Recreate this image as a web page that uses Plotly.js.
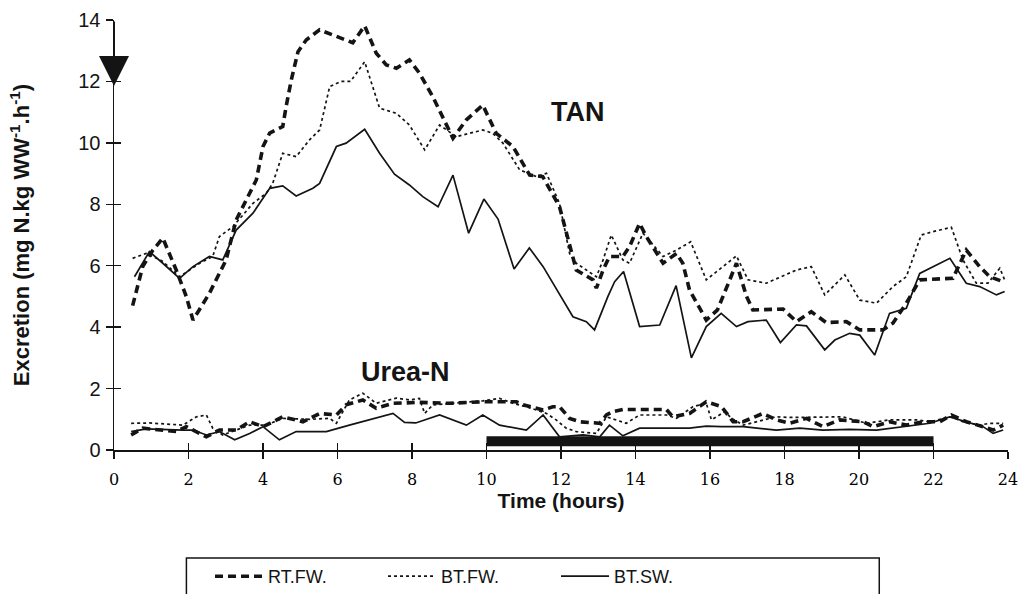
<!DOCTYPE html>
<html>
<head>
<meta charset="utf-8">
<script src="https://cdn.plot.ly/plotly-3.0.1.min.js"></script>
<style>html,body{margin:0;padding:0;background:#fff;}#chart{width:1022px;height:594px;}</style>
</head>
<body>
<div id="chart"></div>
<script>
// ---- data (hours, mg N.kg WW-1.h-1) ----
const seriesNames = ["RT.FW.", "BT.FW.", "BT.SW."];

const tanRtFwX = [0.5,0.77,1.04,1.31,1.67,1.94,2.12,2.56,3.01,3.28,3.82,4.0,4.18,4.53,4.62,4.76,4.94,5.16,5.52,5.97,6.41,6.73,7.04,7.31,7.58,7.93,8.2,8.56,8.83,9.1,9.46,9.9,10.26,10.71,11.16,11.51,11.96,12.23,12.41,12.86,12.95,13.13,13.3,13.66,13.84,14.11,14.29,14.74,15.1,15.27,15.45,15.9,16.2,16.53,16.71,16.98,17.15,17.96,18.32,18.72,19.12,19.66,20.02,20.64,20.91,21.27,21.63,22.52,22.88,23.24,23.51,23.87];
const tanRtFwY = [4.7,5.97,6.5,6.9,5.86,5.0,4.23,5.1,6.19,7.49,8.79,9.88,10.32,10.53,11.18,12.05,12.97,13.35,13.68,13.46,13.26,13.81,12.92,12.54,12.43,12.7,12.27,11.5,10.85,10.15,10.75,11.23,10.31,9.88,8.95,8.9,7.92,6.62,5.86,5.54,5.27,5.86,6.3,6.3,6.62,7.38,6.95,6.08,6.4,6.08,5.21,4.23,4.56,5.54,6.08,5.0,4.56,4.59,4.18,4.5,4.15,4.18,3.91,3.91,4.13,4.78,5.54,5.59,6.51,5.97,5.64,5.48];

const tanBtFwX = [0.5,0.86,1.3,1.76,2.3,2.65,2.83,3.19,3.73,4.09,4.26,4.53,4.89,5.25,5.52,5.79,6.1,6.35,6.73,7.13,7.58,7.93,8.34,8.74,9.19,9.9,10.17,10.44,10.89,11.34,11.61,11.96,12.23,12.41,12.95,13.13,13.35,13.66,13.84,14.2,14.74,15.1,15.48,15.9,16.71,17.02,17.51,18.32,18.72,19.08,19.62,20.02,20.47,20.91,21.27,21.67,21.99,22.48,22.79,23.15,23.46,23.78,23.91];
const tanBtFwY = [6.24,6.4,6.15,5.64,6.08,6.3,6.95,7.27,8.03,8.36,8.68,9.66,9.55,10.1,10.42,11.83,12.0,12.0,12.64,11.13,10.96,10.58,9.77,10.58,10.2,10.42,10.31,9.99,9.12,8.9,9.01,8.03,6.4,6.08,5.64,6.19,7.0,6.19,6.08,7.06,6.3,6.51,6.78,5.54,6.32,5.54,5.43,5.86,5.97,5.05,5.7,4.88,4.78,5.32,5.64,7.0,7.11,7.25,6.19,5.43,5.43,5.92,5.54];

const tanBtSwX = [0.55,0.95,1.31,1.76,2.12,2.56,2.92,3.28,3.73,4.18,4.53,4.89,5.34,5.52,5.97,6.23,6.73,7.13,7.53,7.93,8.29,8.7,9.1,9.52,9.93,10.31,10.74,11.15,11.52,12.32,12.68,12.9,13.26,13.44,13.68,14.11,14.65,15.09,15.5,15.9,16.3,16.71,17.02,17.51,17.89,18.32,18.59,19.08,19.35,19.75,20.02,20.42,20.82,21.27,21.63,22.08,22.44,22.88,23.24,23.69,23.91];
const tanBtSwY = [5.64,6.46,6.08,5.59,5.97,6.3,6.19,7.16,7.71,8.52,8.6,8.27,8.52,8.68,9.88,9.99,10.44,9.66,8.98,8.63,8.25,7.92,8.95,7.06,8.17,7.52,5.89,6.58,5.97,4.34,4.18,3.91,5.0,5.48,5.81,4.02,4.07,5.35,3.0,4.02,4.45,4.02,4.18,4.23,3.5,4.07,4.04,3.26,3.58,3.8,3.74,3.09,4.45,4.61,5.75,6.03,6.24,5.43,5.32,5.05,5.16];

const ureaRtFwX = [0.46,0.77,1.67,1.94,2.48,2.83,3.28,3.64,4.0,4.53,5.07,5.52,5.97,6.23,6.68,7.04,7.49,8.2,9.01,9.9,10.8,10.98,11.52,11.78,11.96,12.23,12.5,13.04,13.22,13.39,13.66,14.83,15.0,15.45,15.9,16.31,16.62,16.89,17.42,17.78,18.14,18.59,19.03,19.48,20.11,20.38,20.82,21.27,21.72,22.17,22.48,22.88,23.33,23.6,23.87];
const ureaRtFwY = [0.49,0.71,0.6,0.76,0.43,0.65,0.65,0.92,0.76,1.08,0.92,1.19,1.14,1.47,1.63,1.36,1.52,1.55,1.52,1.57,1.57,1.47,1.3,1.41,1.41,1.03,0.92,0.87,1.14,1.25,1.32,1.32,1.08,1.19,1.57,1.41,0.92,0.92,1.19,0.98,0.87,1.03,0.76,0.98,0.92,0.76,0.92,0.81,0.92,0.92,1.14,0.92,0.76,0.65,0.81];

const ureaBtFwX = [0.46,0.95,1.85,2.21,2.48,2.65,2.92,3.28,3.64,4.09,4.53,5.25,5.79,5.97,6.32,6.68,7.04,7.58,7.93,8.2,8.34,8.56,9.01,9.9,10.35,10.71,11.07,11.61,11.87,12.14,12.41,12.95,13.22,13.75,14.11,14.83,15.1,15.54,15.9,16.04,16.4,16.58,16.89,17.78,18.14,19.21,19.57,20.2,20.82,21.54,21.9,22.48,22.79,23.24,23.51,23.87];
const ureaBtFwY = [0.87,0.88,0.81,1.08,1.14,0.71,0.49,0.65,0.81,0.81,1.03,1.0,1.03,0.87,1.63,1.85,1.52,1.69,1.63,1.68,1.19,1.47,1.52,1.6,1.68,1.52,1.41,1.19,0.98,0.71,0.6,0.54,1.08,0.87,1.14,1.14,1.03,1.41,1.52,0.98,1.25,1.03,0.81,1.08,1.06,1.06,1.08,0.87,0.98,0.98,0.92,1.08,0.92,0.81,0.87,0.87];

const ureaBtSwX = [0.46,0.86,1.85,2.12,2.48,2.83,3.24,3.64,4.0,4.44,4.89,5.7,6.32,7.49,7.8,8.1,8.74,9.46,9.9,10.35,11.07,11.52,11.96,12.59,13.04,13.3,13.66,14.11,15.45,15.9,16.31,16.89,17.78,18.41,19.03,19.75,20.47,21.18,21.9,22.43,22.88,23.33,23.6,23.87];
const ureaBtSwY = [0.6,0.69,0.65,0.65,0.49,0.6,0.33,0.54,0.76,0.33,0.6,0.6,0.81,1.19,0.9,0.88,1.14,0.81,1.14,0.81,0.65,1.14,0.43,0.49,0.43,0.81,0.46,0.71,0.71,0.78,0.76,0.76,0.65,0.71,0.65,0.67,0.65,0.76,0.87,1.08,0.92,0.76,0.54,0.65];

// dark period (hours) and its bar height on the value axis
const darkPeriod = [10, 22];
const darkBarY = [0.12, 0.45];
// feeding marker (arrow) time and its value span
const feedTime = 0;
const feedArrowY = [14, 11.85];

const xTicks = [0,2,4,6,8,10,12,14,16,18,20,22,24];
const yTicks = [0,2,4,6,8,10,12,14];
const labelTAN = {text: "TAN", x: 12.45, y: 11.0};
const labelUrea = {text: "Urea-N", x: 7.83, y: 2.55};

// ---- styles ----
const ink = "#141414";
const sans = "Liberation Sans, Arial, sans-serif";
const styles = [
  {width: 3.6, dash: "8px,5px"},
  {width: 1.7, dash: "3px,3px"},
  {width: 1.7, dash: "solid"}
];

function mk(x, y, i, showlegend) {
  return {
    type: "scatter", mode: "lines", x: x, y: y,
    name: seriesNames[i], legendgroup: seriesNames[i], showlegend: showlegend,
    line: {color: ink, width: styles[i].width, dash: styles[i].dash, shape: "linear"},
    hoverinfo: "x+y+name"
  };
}

const traces = [
  mk(tanRtFwX, tanRtFwY, 0, true),
  mk(tanBtFwX, tanBtFwY, 1, true),
  mk(tanBtSwX, tanBtSwY, 2, true),
  mk(ureaRtFwX, ureaRtFwY, 0, false),
  mk(ureaBtFwX, ureaBtFwY, 1, false),
  mk(ureaBtSwX, ureaBtSwY, 2, false),
  // helper trace so the inner-tick overlay axes are drawn
  {type: "scatter", mode: "markers", x: [null], y: [null], xaxis: "x2", yaxis: "y2",
   showlegend: false, hoverinfo: "skip", marker: {opacity: 0}}
];

const layout = {
  width: 1022, height: 594,
  paper_bgcolor: "#fff", plot_bgcolor: "#fff",
  margin: {l: 114, r: 14, t: 20, b: 144, pad: 0},
  showlegend: true,
  font: {family: sans, color: ink},
  xaxis: {
    range: [0, 24], tickvals: xTicks, ticktext: xTicks.map(String),
    showgrid: false, zeroline: false, showline: true, linecolor: ink, linewidth: 1.5,
    ticks: "outside", ticklen: 7, tickwidth: 1.3, tickcolor: ink,
    tickfont: {family: "DejaVu Serif, serif", size: 16, color: "#000"},
    ticklabelstandoff: 7,
    title: {text: "<b>Time (hours)</b>", font: {family: sans, size: 21, color: ink}, standoff: 0}
  },
  yaxis: {
    range: [0, 14], tickvals: yTicks, ticktext: yTicks.map(String),
    showgrid: false, zeroline: false, showline: true, linecolor: ink, linewidth: 1.5,
    ticks: "outside", ticklen: 7, tickwidth: 1.3, tickcolor: ink,
    tickfont: {family: sans, size: 20, color: ink},
    ticklabelstandoff: 1,
    title: {text: "<b>Excretion (mg N.kg WW<sup>-1</sup>.h<sup>-1</sup>)</b>", font: {family: sans, size: 22, color: ink}, standoff: 42}
  },
  xaxis2: {overlaying: "x", matches: "x", range: [0, 24], tickvals: xTicks, showticklabels: false,
    ticks: "inside", ticklen: 7, tickwidth: 1.3, tickcolor: ink, showgrid: false, zeroline: false, showline: false},
  yaxis2: {overlaying: "y", matches: "y", range: [0, 14], tickvals: yTicks, showticklabels: false,
    ticks: "inside", ticklen: 7, tickwidth: 1.3, tickcolor: ink, showgrid: false, zeroline: false, showline: false},
  legend: {
    orientation: "h", xref: "container", yref: "container",
    x: 0.2055, xanchor: "left", y: 0.0606, yanchor: "top",
    borderwidth: 0, bgcolor: "rgba(0,0,0,0)",
    font: {family: sans, size: 18, color: ink},
    entrywidth: 110, entrywidthmode: "pixels", itemwidth: 48, tracegroupgap: 0
  },
  shapes: [
    {type: "rect", xref: "x", yref: "y",
     x0: darkPeriod[0], x1: darkPeriod[1], y0: darkBarY[0], y1: darkBarY[1],
     fillcolor: ink, line: {width: 0}, layer: "above"},
    // legend frame (bottom edge runs off the page as in the original)
    {type: "rect", xref: "paper", yref: "paper", x0: 0.081, x1: 0.856, y0: -0.251, y1: -0.40,
     line: {color: ink, width: 1.5}, fillcolor: "rgba(0,0,0,0)", layer: "below"}
  ],
  annotations: [
    {x: labelTAN.x, y: labelTAN.y, xref: "x", yref: "y", text: "<b>" + labelTAN.text + "</b>", showarrow: false,
     font: {family: sans, size: 27, color: ink}},
    {x: labelUrea.x, y: labelUrea.y, xref: "x", yref: "y", text: "<b>" + labelUrea.text + "</b>", showarrow: false,
     font: {family: sans, size: 27, color: ink}},
    {x: feedTime, y: feedArrowY[1], ax: feedTime, ay: feedArrowY[0], xref: "x", yref: "y", axref: "x", ayref: "y",
     text: "", showarrow: true, arrowhead: 2, arrowsize: 3, arrowwidth: 2, arrowcolor: ink}
  ]
};

Plotly.newPlot("chart", traces, layout, {displayModeBar: false, staticPlot: true});
</script>
</body>
</html>
